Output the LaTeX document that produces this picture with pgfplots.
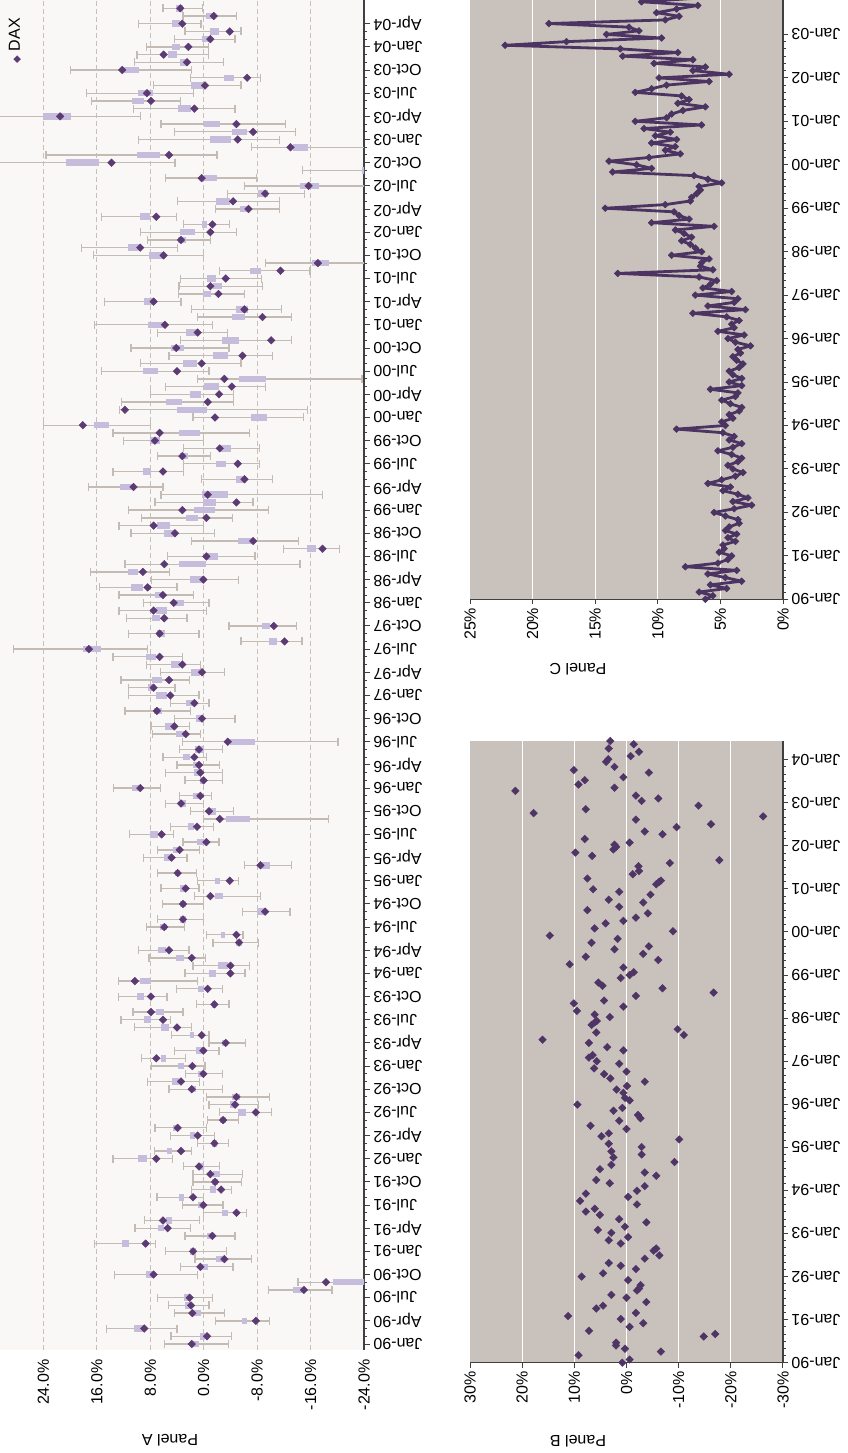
\documentclass[border=0pt]{standalone}
\usepackage{pgfplots}
\pgfplotsset{compat=1.18}
\usepackage{pgfplotstable}
\usepackage{fontspec}
\setmainfont{Liberation Sans}
\newfontfamily\symfont{DejaVu Sans}
\definecolor{bgA}{HTML}{F9F8F6}
\definecolor{gridA}{HTML}{C8BFB8}
\definecolor{whisk}{HTML}{C4BBB4}
\definecolor{boxC}{HTML}{C6BDDD}
\definecolor{dax}{HTML}{5C3A73}
\definecolor{bgB}{HTML}{C9C1BB}
\definecolor{ptB}{HTML}{4F3565}
\definecolor{lineC}{HTML}{4B3461}
\definecolor{axisC}{HTML}{404040}

\pgfplotstableread{
t d bhi blo whi wlo
173 3.5 4.1 3.1 6.1 0.2
172 -1.5 -0.3 -1.4 3.1 -4.9
171 3.2 4.8 3.5 9.8 0.4
170 -3.9 -1.0 -2.3 2.8 -5.6
169 -1.0 0.3 -0.8 4.4 -4.7
168 2.3 4.8 3.5 8.6 -0.7
167 6.0 5.3 4.0 10.0 -0.7
166 2.5 3.6 2.3 10.4 -3.0
165 12.2 11.9 9.7 19.9 1.8
164 -6.5 -3.0 -4.5 2.0 -8.5
163 -0.2 1.9 0.1 7.5 -5.6
162 8.5 9.8 7.6 17.6 1.5
161 7.9 10.7 9.0 16.8 3.5
160 1.4 3.9 1.9 10.5 -4.7
159 21.5 24.0 19.8 31.0 9.5
158 -4.9 0.0 -2.5 6.4 -12.2
157 -7.4 -4.2 -6.5 4.4 -13.7
156 -5.1 -1.0 -4.1 9.8 -11.3
155 -13.0 -13.3 -15.6 -7.2 -25.0
154 5.2 10.0 6.5 23.6 -2.0
153 13.8 20.6 15.7 31.0 4.3
152 nan -23.7 -25.0 -14.8 -30.0
151 0.3 -0.05 -2.0 5.7 -7.9
150 -15.7 -14.4 -17.2 -6.1 -25.0
149 -9.2 -8.2 -9.7 -3.6 -15.1
148 -4.4 -1.9 -4.0 3.9 -11.3
147 -6.7 -5.5 -6.9 -1.8 -11.3
146 7.1 9.5 8.1 15.3 4.1
145 -1.3 0.3 -0.5 3.0 -3.9
144 -1.0 3.5 1.3 9.5 -4.9
143 3.4 3.8 2.7 8.4 -1.0
142 9.5 11.3 9.5 18.3 3.9
141 6.0 8.2 6.0 16.5 0.0
140 -17.1 -16.2 -18.8 -9.2 -25.0
139 -11.5 -6.9 -8.6 -2.4 -15.9
138 -3.3 -0.5 -1.8 3.5 -8.7
137 -1.0 -1.4 -2.7 3.7 -8.8
136 -2.2 0.1 -1.1 3.8 -6.1
135 7.5 8.9 7.5 14.9 3.4
134 -6.1 -4.8 -6.7 1.8 -11.7
133 -8.8 -4.2 -6.2 0.9 -13.1
132 5.8 8.3 6.0 16.3 -1.3
131 0.9 2.6 0.7 6.9 -3.6
130 -10.1 -2.8 -5.3 3.5 -13.1
129 4.1 4.9 2.9 10.9 -3.8
128 -5.8 -1.4 -3.7 5.2 -10.3
127 0.3 3.1 1.0 9.5 -5.6
126 4.0 9.1 6.9 15.3 -0.8
125 -3.1 -5.3 -9.3 0.9 -23.7
124 -4.2 -0.1 -2.3 5.7 -9.3
123 -2.3 2.1 0.4 8.0 -4.5
122 -0.6 5.7 3.3 12.3 -4.5
121 11.8 4.0 -0.5 12.6 -15.5
120 -1.7 -7.1 -9.5 1.6 -14.9
119 18.1 16.4 14.2 24.0 8.0
118 6.6 3.7 0.6 13.6 -6.9
117 7.3 8.0 6.5 12.0 0.0
116 -2.4 -2.6 -4.1 3.0 -8.4
115 3.2 3.5 2.4 6.9 -1.0
114 -5.1 -1.8 -3.4 3.0 -8.4
113 6.1 9.1 7.9 13.6 3.0
112 -6.1 -4.8 -6.4 0.3 -10.3
111 10.5 12.5 10.6 17.3 6.1
110 -0.6 0.3 -3.7 6.4 -17.8
109 -4.9 0.1 -1.9 7.3 -7.4
108 3.2 1.4 -1.7 11.3 -9.7
107 -0.4 2.6 0.8 9.3 -4.3
106 7.5 7.0 5.0 12.7 0.0
105 4.3 5.9 4.2 10.9 -1.6
104 -7.4 -5.1 -7.4 1.8 -14.2
103 -17.8 -15.4 -16.8 -11.9 -20.3
102 -0.4 -0.4 -2.1 5.4 -7.7
101 5.9 3.7 -0.3 11.8 -14.4
100 9.1 11.3 9.9 16.9 5.1
99 0.05 2.1 0.0 7.8 -5.2
98 8.4 10.9 9.1 15.6 4.0
97 6.1 7.3 6.0 12.7 1.5
96 4.5 4.5 3.0 9.0 -0.8
95 7.5 7.1 5.5 12.7 -0.4
94 5.9 7.7 6.5 11.6 2.5
93 -10.5 -8.7 -9.9 -3.8 -13.9
92 6.6 7.0 5.8 11.3 0.7
91 -12.1 -9.8 -10.9 -5.6 -14.7
90 17.2 18.1 15.4 28.5 8.4
89 6.6 8.7 7.1 13.6 3.2
88 3.2 4.9 3.5 8.6 0.5
87 0.25 1.9 0.5 6.5 -3.1
86 5.2 7.7 6.3 12.4 2.1
85 7.5 8.3 7.3 11.3 4.3
84 5.0 7.1 5.5 11.3 0.7
83 1.4 2.6 1.6 5.0 -0.8
82 7.0 7.5 6.3 11.8 2.0
81 0.25 1.2 0.0 4.4 -4.7
80 4.4 5.8 4.5 7.9 2.1
79 2.7 4.1 2.7 7.7 0.5
78 -3.6 -3.9 -7.7 3.2 -20.1
77 0.7 1.3 0.0 3.6 -2.8
76 1.4 3.1 2.1 6.1 -0.4
75 0.7 1.6 0.5 4.0 -2.4
74 0.5 1.4 0.3 5.7 -2.8
73 0.0 0.5 0.0 2.8 -2.8
72 9.5 10.7 9.5 13.5 6.5
71 0.5 1.6 0.5 3.6 -1.2
70 3.4 3.5 2.7 5.7 0.0
69 -0.8 -0.7 -1.8 2.0 -4.5
68 -2.4 -3.3 -7.0 0.0 -18.7
67 1.0 2.4 1.4 5.0 -1.5
66 6.3 8.0 6.9 11.1 4.5
65 -0.4 1.0 0.0 3.1 -2.3
64 3.6 4.6 3.5 6.9 0.6
63 4.8 6.0 4.8 9.0 2.5
62 -8.5 -8.8 -9.9 -6.1 -13.1
61 3.9 4.3 3.5 6.9 1.1
60 -3.9 -1.7 -2.5 0.9 -5.2
59 2.7 3.6 2.8 6.4 0.7
58 -1.0 -1.7 -2.9 1.4 -8.5
57 3.1 3.6 2.7 6.2 0.0
56 -9.2 -8.0 -9.2 -5.8 -12.9
55 3.1 3.6 2.7 6.9 0.0
54 5.9 6.5 5.5 8.6 2.9
53 -4.9 -2.6 -3.2 -0.4 -5.9
52 -5.3 -4.9 -5.7 -1.4 -8.2
51 5.2 6.9 5.7 9.8 2.2
50 1.8 4.1 3.0 8.2 -0.3
49 -4.0 -2.2 -3.7 1.6 -6.9
48 -4.0 -0.8 -1.9 2.8 -6.2
47 10.3 9.5 7.9 12.8 0.9
46 -0.6 0.8 0.0 4.1 -2.8
45 7.9 10.0 8.9 12.8 5.5
44 -1.6 -1.2 -1.9 1.1 -3.8
43 7.9 7.1 6.0 10.6 3.1
42 6.1 8.9 7.9 12.4 5.0
41 4.0 6.4 5.2 10.4 1.8
40 0.3 2.1 1.5 4.8 -0.8
39 -3.3 -2.8 -3.6 -0.8 -6.3
38 0.05 1.1 0.3 4.4 -2.3
37 7.1 6.4 5.6 9.3 2.7
36 1.7 3.9 2.9 7.8 -0.2
35 0.05 0.8 0.0 2.7 -2.8
34 3.4 4.7 3.7 8.4 0.6
33 1.8 2.0 1.1 5.2 -2.8
32 -4.9 -4.2 -5.4 -0.4 -9.9
31 -4.7 -3.9 -4.8 -0.8 -8.2
30 -7.8 -5.2 -6.3 -2.4 -10.2
29 -2.9 -2.4 -3.4 -0.6 -5.2
28 3.9 4.6 3.8 7.3 -0.4
27 0.9 2.1 1.3 5.0 -1.6
26 -1.6 -1.2 -2.0 0.9 -3.7
25 3.4 5.5 4.7 7.4 1.8
24 7.1 9.8 8.5 13.6 4.7
23 0.7 0.8 0.0 3.0 -2.4
22 -1.0 -1.4 -2.5 1.6 -5.8
21 -1.7 -1.2 -2.2 1.6 -5.7
20 -2.6 -0.9 -1.8 1.8 -4.2
19 1.6 3.7 2.9 7.0 0.0
18 0.05 0.9 0.0 3.2 -2.9
17 -4.9 -2.8 -3.7 0.0 -6.4
16 6.1 5.6 4.7 8.9 0.6
15 5.4 6.9 5.9 10.3 2.0
14 -1.3 -0.5 -1.5 2.8 -4.7
13 8.7 12.3 11.2 16.3 7.2
12 1.6 2.0 1.1 5.7 -3.4
11 -3.1 -1.9 -2.9 1.3 -7.2
10 0.5 0.5 -0.7 3.5 -4.4
9 7.5 8.6 7.5 13.4 0.9
8 -18.3 -19.3 -25.0 -14.1 -25.0
7 -15.0 -13.4 -14.7 -9.7 -19.2
6 2.1 3.0 2.1 6.9 -1.3
5 1.9 2.8 2.0 5.3 -0.8
4 1.7 1.4 0.4 4.4 -3.1
3 -7.8 -5.8 -6.5 -1.8 -9.9
2 8.9 10.5 9.0 14.6 4.0
1 -0.5 0.5 -0.2 4.9 -4.2
0 1.8 1.8 0.7 5.9 -3.7
}\dataA

\pgfplotstableread{
t v
0 0.8
0.9 -0.6
2.1 9.2
3.1 -6.6
3.9 0.3
4.8 2.0
5.6 2.0
7.3 -14.8
8.0 -17.0
8.9 7.2
10.0 -0.6
11.0 -3.2
12.2 1.1
13.0 11.2
13.9 -1.8
15.1 5.8
15.9 4.5
16.9 -3.8
18.1 0.0
18.9 2.9
20.1 -2.0
20.7 -2.4
21.6 -2.7
23.0 -0.3
24.0 8.6
24.9 4.5
26.1 -1.8
27.0 1.1
27.8 3.4
29.0 -3.5
29.9 -6.3
31.2 -5.2
31.8 -5.7
33.2 1.1
34.1 3.4
35.0 -0.3
36.2 2.9
37.0 5.5
37.9 0.3
39.1 -3.8
40.0 1.4
41.2 5.1
42.1 7.8
42.9 6.1
44.1 -2.0
45.1 8.9
46.2 -0.3
47.1 7.8
47.9 -2.0
49.2 -3.5
50.0 3.2
50.9 5.8
52.1 -5.7
53.0 -3.5
53.9 5.1
55.1 2.9
55.9 -9.2
57.2 2.5
58.0 -2.9
58.9 2.9
60.1 -2.9
61.0 3.4
62.2 -10.1
63.1 4.8
63.9 3.4
65.1 0.0
66.0 6.9
67.4 1.4
68.1 -2.7
69.0 -2.2
70.2 2.5
71.0 0.8
71.9 9.4
73.1 -0.6
73.8 0.3
75.2 0.6
76.1 1.9
77.1 -0.1
78.3 -3.5
79.2 3.1
80.4 4.3
81.1 0.0
82.0 6.2
83.3 1.4
84.0 5.7
85.0 7.2
85.7 6.5
87.0 0.6
87.9 3.7
89.1 7.2
90.0 16.1
91.3 -11.0
92.0 5.8
92.9 -9.8
94.1 6.7
94.8 6.1
95.2 5.7
96.3 3.2
97.0 6.1
98.0 9.5
99.2 0.6
100.1 10.1
100.9 4.3
102.2 -1.8
103.1 -16.7
104.3 -6.9
105.0 4.6
105.9 5.4
107.2 1.1
108.0 -0.6
108.8 -1.4
110.1 0.6
111.0 10.9
112.2 -6.1
113.1 7.8
113.9 -3.2
115.2 2.3
116.0 -4.3
117.0 6.7
118.1 1.7
119.0 14.7
120.2 -8.9
121.0 6.1
122.4 4.0
123.1 0.6
124.0 -1.8
125.2 -4.1
126.1 7.5
127.0 1.4
128.2 -3.2
129.0 3.4
130.4 -4.6
131.2 1.4
131.9 6.4
133.3 -5.7
133.9 -6.2
134.3 -6.6
134.9 7.5
136.1 -1.2
137.0 -2.4
138.3 -2.3
139.2 -8.3
140.0 -17.8
141.2 6.6
142.1 9.8
143.0 2.5
143.7 2.0
144.3 2.3
144.9 -0.6
145.9 8.0
147.2 -6.9
148.0 -3.5
149.2 -9.6
150.0 -16.2
151.3 -1.8
152.2 -26.2
153.1 17.8
154.2 7.8
155.2 -13.8
156.5 -2.9
157.2 -6.1
158.0 -1.8
159.3 21.3
160.2 2.3
161.1 9.2
162.3 8.0
163.1 0.6
164.4 -4.3
165.1 10.1
166.0 2.3
167.4 3.9
168.1 3.5
169.0 -0.8
170.2 -2.4
171.1 3.4
172.3 -1.4
173.2 3.1
}\dataB

\pgfplotstableread{
t v
0 6.2
1 5.6
2 6.7
3 4.5
4 5.8
5 3.3
6 4.6
7 6.0
8 3.7
9 7.8
10 5.2
11 4.4
12 4.1
13 5.1
14 4.7
15 4.8
16 3.8
17 4.4
18 3.7
19 4.6
20 4.3
21 3.5
22 3.6
23 4.6
24 5.5
25 3.9
26 2.5
27 4.0
28 2.8
29 3.6
30 4.8
31 4.2
32 6.0
33 4.9
34 3.8
35 3.2
36 4.0
37 4.4
38 3.6
39 3.3
40 4.1
41 5.2
42 4.0
43 3.3
44 4.3
45 3.9
46 4.8
47 8.5
48 4.6
49 4.9
50 4.0
51 4.3
52 3.5
53 3.3
54 4.2
55 4.9
56 3.8
57 3.6
58 5.8
59 3.3
60 4.3
61 3.3
62 4.0
63 4.3
64 3.5
65 3.2
66 3.7
67 4.0
68 3.4
69 3.6
70 2.6
71 3.8
72 4.4
73 3.1
74 5.2
75 3.9
76 4.1
77 3.5
78 4.5
79 7.2
80 3.0
81 6.0
82 3.9
83 3.6
84 7.0
85 4.1
86 6.4
87 5.8
88 5.3
89 6.7
90 13.2
91 5.6
92 6.6
93 6.5
94 5.9
95 8.9
96 6.5
97 7.0
98 7.4
99 8.1
100 7.3
101 7.9
102 8.6
103 5.5
104 10.5
105 7.5
106 8.3
107 8.7
108 14.2
109 9.4
110 7.4
111 7.3
112 6.9
113 6.6
114 6.7
115 4.9
116 6.0
117 7.1
118 13.6
119 10.5
120 11.7
121 13.9
122 10.7
123 8.2
124 9.4
125 8.6
126 10.5
127 8.5
128 10.2
129 9.0
130 11.1
131 6.5
132 11.8
133 9.3
134 8.9
135 8.0
136 6.2
137 8.4
138 7.5
139 8.1
140 11.8
141 10.5
142 9.3
143 5.9
144 9.9
145 4.3
146 7.2
147 6.2
148 10.3
149 7.2
150 12.8
151 8.4
152 13.0
153 22.2
154 17.3
155 9.7
156 14.1
157 11.5
158 12.3
159 18.7
160 9.4
161 8.3
162 10.1
163 8.5
164 6.8
165 11.3
166 6.9
167 5.2
168 6.6
169 4.8
170 6.0
}\dataC

\begin{document}
\begin{tikzpicture}[font=\fontsize{16}{19}\selectfont]
\useasboundingbox (0pt,-1453pt) rectangle (848pt,0pt);

% ---------------- Panel A ----------------
\begin{axis}[
  at={(0pt,-1350pt)}, anchor=south west, scale only axis,
  width=364pt, height=1350pt,
  x dir=reverse, xmin=-24, xmax=30.5,
  ymin=-0.777, ymax=174.07,
  axis background/.style={fill=bgA},
  axis x line*=bottom, axis y line*=right,
  axis line style={-},
  x axis line style={draw=none},
  y axis line style={draw=axisC, line width=1.2pt},
  xtick={-24,-16,...,24},
  tick style={draw=axisC, line width=1pt},
  xtick style={draw=none},
  xmajorgrids,
  grid style={dash pattern=on 5pt off 3pt, draw=gridA, line width=0.9pt},
  xticklabel={\pgfmathprintnumber[fixed,fixed zerofill,precision=1]{\tick}\%},
  xticklabel style={rotate=90, anchor=east},
  ytick={0,3,...,171},
  yticklabels={Jan-90,Apr-90,Jul-90,Oct-90,Jan-91,Apr-91,Jul-91,Oct-91,Jan-92,Apr-92,Jul-92,Oct-92,Jan-93,Apr-93,Jul-93,Oct-93,Jan-94,Apr-94,Jul-94,Oct-94,Jan-95,Apr-95,Jul-95,Oct-95,Jan-96,Apr-96,Jul-96,Oct-96,Jan-97,Apr-97,Jul-97,Oct-97,Jan-98,Apr-98,Jul-98,Oct-98,Jan-99,Apr-99,Jul-99,Oct-99,Jan-00,Apr-00,Jul-00,Oct-00,Jan-01,Apr-01,Jul-01,Oct-01,Jan-02,Apr-02,Jul-02,Oct-02,Jan-03,Apr-03,Jul-03,Oct-03,Jan-04,Apr-04},
  minor y tick num=2,
  tick align=outside,
  major tick length=6pt, minor tick length=3pt,
  yticklabel style={rotate=180, anchor=east},
  /pgf/number format/assume math mode=true,
  clip=true,
]
% whiskers (range)
\addplot[draw=none, mark=none, forget plot,
  error bars/.cd, x dir=both, x explicit, error mark=none,
  error bar style={draw=whisk, line width=1.3pt}]
  table[x expr={(\thisrow{whi}+\thisrow{wlo})/2}, y=t,
        x error expr={(\thisrow{whi}-\thisrow{wlo})/2}] {\dataA};
% whisker end caps
\addplot[only marks, forget plot, mark=|, mark size=4pt,
  mark options={draw=whisk, line width=1.3pt},
  restrict x to domain=-24:30.4]
  table[x=whi, y=t] {\dataA};
\addplot[only marks, forget plot, mark=|, mark size=4pt,
  mark options={draw=whisk, line width=1.3pt},
  restrict x to domain=-23.9:30.4]
  table[x=wlo, y=t] {\dataA};
% boxes
\addplot[draw=none, mark=none, forget plot,
  error bars/.cd, x dir=both, x explicit, error mark=none,
  error bar style={draw=boxC, line width=6.5pt}]
  table[x expr={(\thisrow{bhi}+\thisrow{blo})/2}, y=t,
        x error expr={(\thisrow{bhi}-\thisrow{blo})/2}] {\dataA};
% DAX diamonds
\addplot[only marks, mark=square*, mark size=2.7pt,
  mark options={rotate=45, fill=dax, draw=dax}]
  table[x=d, y=t] {\dataA};
\end{axis}

\node[rotate=90, anchor=west, inner sep=0pt] at (15pt,-64pt)
  {{\color{dax}\symfont\fontsize{10}{10}\selectfont ◆}\hspace{5pt}DAX};
\node[rotate=180] at (170pt,-1440pt) {Panel A};

% ---------------- Panel B ----------------
\begin{axis}[
  at={(470pt,-1362.7pt)}, anchor=south west, scale only axis,
  width=313pt, height=621.7pt,
  x dir=reverse, xmin=-30, xmax=30,
  ymin=0, ymax=173.2,
  axis background/.style={fill=bgB},
  axis x line*=bottom, axis y line*=right,
  axis line style={-, draw=axisC, line width=1.2pt},
  xtick={-20,-10,...,20},
  extra x ticks={-30,30},
  extra x tick style={grid=none},
  xmajorgrids,
  grid style={draw=white, line width=1.2pt},
  xticklabel={\pgfmathprintnumber{\tick}\%},
  xticklabel style={rotate=90, anchor=east},
  ytick={0,12,...,168},
  yticklabels={Jan-90,Jan-91,Jan-92,Jan-93,Jan-94,Jan-95,Jan-96,Jan-97,Jan-98,Jan-99,Jan-00,Jan-01,Jan-02,Jan-03,Jan-04},
  minor y tick num=5,
  tick align=outside,
  major tick length=5pt, minor tick length=3pt,
  tick style={draw=axisC, line width=1pt},
  yticklabel style={rotate=180, anchor=east},
  /pgf/number format/assume math mode=true,
  clip=false,
]
\addplot[only marks, mark=square*, mark size=2.7pt,
  mark options={rotate=45, fill=ptB, draw=ptB}]
  table[x=v, y=t] {\dataB};
\end{axis}
\node[rotate=180] at (578pt,-1441pt) {Panel B};

% ---------------- Panel C ----------------
\begin{axis}[
  at={(470pt,-599.3pt)}, anchor=south west, scale only axis,
  width=313pt, height=599.3pt,
  x dir=reverse, xmin=0, xmax=25,
  ymin=0, ymax=165.5,
  axis background/.style={fill=bgB},
  axis x line*=bottom, axis y line*=right,
  axis line style={-, draw=axisC, line width=1.2pt},
  xtick={5,10,...,20},
  extra x ticks={0,25},
  extra x tick style={grid=none},
  xmajorgrids,
  grid style={draw=white, line width=1.2pt},
  xticklabel={\pgfmathprintnumber{\tick}\%},
  xticklabel style={rotate=90, anchor=east},
  ytick={0,12,...,156},
  yticklabels={Jan-90,Jan-91,Jan-92,Jan-93,Jan-94,Jan-95,Jan-96,Jan-97,Jan-98,Jan-99,Jan-00,Jan-01,Jan-02,Jan-03},
  minor y tick num=5,
  tick align=outside,
  major tick length=5pt, minor tick length=3pt,
  tick style={draw=axisC, line width=1pt},
  yticklabel style={rotate=180, anchor=east},
  /pgf/number format/assume math mode=true,
  clip=true,
]
\addplot[draw=lineC, line width=2.8pt, line join=round, mark=square*, mark size=2.4pt,
  mark options={rotate=45, fill=lineC, draw=lineC, line width=0.5pt}]
  table[x=v, y=t] {\dataC};
\end{axis}
\node[rotate=180] at (578pt,-669pt) {Panel C};
\end{tikzpicture}
\end{document}
